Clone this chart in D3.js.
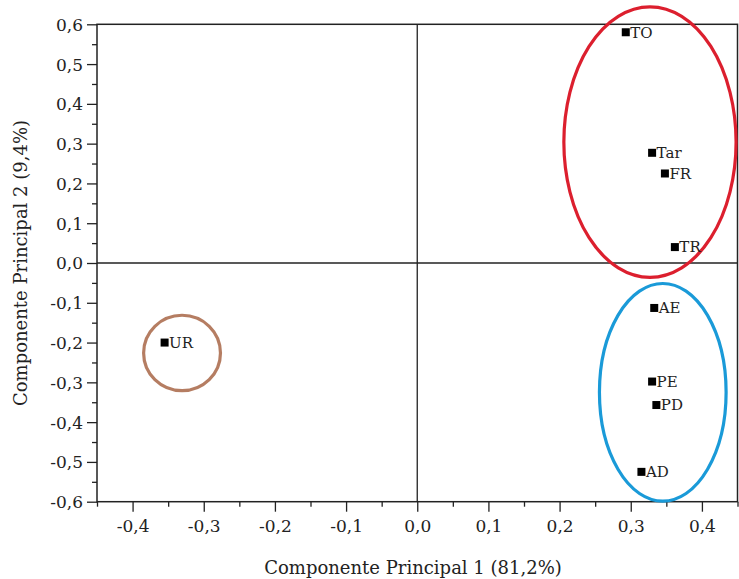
<!DOCTYPE html>
<html>
<head>
<meta charset="utf-8">
<script src="https://cdn.jsdelivr.net/npm/d3@7"></script>
<style>
  body { margin: 0; background: #fff; }
  svg text { font-family: "DejaVu Serif", serif; fill: #222; }
</style>
</head>
<body>
<svg width="739" height="579"></svg>
<script>
// sample scores on the first two principal components
const labels = ["TO", "Tar", "FR", "TR", "AE", "PE", "PD", "AD", "UR"];
const pc1 = [0.293, 0.330, 0.348, 0.362, 0.333, 0.330, 0.336, 0.315, -0.355];
const pc2 = [0.580, 0.277, 0.225, 0.040, -0.113, -0.298, -0.357, -0.525, -0.200];

// group ellipses (data units)
const groupCx = [0.327, 0.345, -0.3305];
const groupCy = [0.304, -0.325, -0.226];
const groupRx = [0.121, 0.089, 0.054];
const groupRy = [0.340, 0.2735, 0.0947];
const groupColor = ["#dc1f2e", "#1a9ad8", "#b57d62"];

const xTicks = [-0.4, -0.3, -0.2, -0.1, 0.0, 0.1, 0.2, 0.3, 0.4];
const yTicks = [-0.6, -0.5, -0.4, -0.3, -0.2, -0.1, 0.0, 0.1, 0.2, 0.3, 0.4, 0.5, 0.6];

const margins = {t: 24.3, r: 1.5, b: 77.3, l: 97};
const size = {w: 739 - margins.l - margins.r, h: 579 - margins.t - margins.b};

const svg = d3.select('svg');
const g = svg.append('g')
    .attr('transform', `translate(${margins.l}, ${margins.t})`);

const scaleX = d3.scaleLinear().domain([-0.45, 0.45]).range([0, size.w]);
const scaleY = d3.scaleLinear().domain([-0.6, 0.6]).range([size.h, 0]);

const fmt = d => d3.format('.1f')(d).replace('.', ',').replace('−', '-');

// minor ticks
const xMinor = d3.range(-0.45, 0.451, 0.1).map(d => +d.toFixed(2));
const yMinor = d3.range(-0.55, 0.551, 0.1).map(d => +d.toFixed(2));

g.append('g').attr('class', 'x-minor')
    .attr('transform', `translate(0, ${size.h})`)
    .call(d3.axisBottom(scaleX).tickValues(xMinor).tickSize(5).tickFormat(''))
    .call(s => s.select('.domain').remove());

g.append('g').attr('class', 'y-minor')
    .call(d3.axisLeft(scaleY).tickValues(yMinor).tickSize(5).tickFormat(''))
    .call(s => s.select('.domain').remove());

let axisXG = g.append('g')
    .attr('transform', `translate(0, ${size.h})`)
    .call(d3.axisBottom(scaleX).tickValues(xTicks).tickSize(10).tickPadding(8).tickFormat(fmt));
axisXG.select('.domain').remove();
axisXG.selectAll('text').style('font-size', '17px');

let axisYG = g.append('g')
    .call(d3.axisLeft(scaleY).tickValues(yTicks).tickSize(10).tickPadding(4).tickFormat(fmt));
axisYG.select('.domain').remove();
axisYG.selectAll('text').style('font-size', '17px').attr('dy', '0.35em');

g.selectAll('.tick line').attr('stroke', '#222').attr('stroke-width', 1.3);

// frame
g.append('rect')
    .attr('width', size.w).attr('height', size.h)
    .attr('fill', 'none').attr('stroke', '#222').attr('stroke-width', 1.5);

// zero lines
g.append('line')
    .attr('x1', scaleX(0)).attr('x2', scaleX(0))
    .attr('y1', 0).attr('y2', size.h)
    .attr('stroke', '#222').attr('stroke-width', 1.3);
g.append('line')
    .attr('x1', 0).attr('x2', size.w)
    .attr('y1', scaleY(0)).attr('y2', scaleY(0))
    .attr('stroke', '#222').attr('stroke-width', 1.3);

// ellipses
g.selectAll('ellipse')
    .data(groupCx)
    .enter()
    .append('ellipse')
    .attr('cx', (d, i) => scaleX(groupCx[i]))
    .attr('cy', (d, i) => scaleY(groupCy[i]))
    .attr('rx', (d, i) => scaleX(groupRx[i]) - scaleX(0))
    .attr('ry', (d, i) => scaleY(0) - scaleY(groupRy[i]))
    .attr('fill', 'none')
    .attr('stroke', (d, i) => groupColor[i])
    .attr('stroke-width', 3.2);

// points
const pts = g.selectAll('g.pt')
    .data(labels)
    .enter()
    .append('g')
    .attr('class', 'pt')
    .attr('transform', (d, i) => `translate(${scaleX(pc1[i])}, ${scaleY(pc2[i])})`);

pts.append('rect')
    .attr('x', -4).attr('y', -4)
    .attr('width', 8).attr('height', 8)
    .attr('fill', '#000');

pts.append('text')
    .attr('x', 4.5)
    .attr('dy', '0.35em')
    .style('font-size', '15px')
    .text(d => d);

// axis titles
svg.append('text')
    .attr('x', 413).attr('y', 574)
    .attr('text-anchor', 'middle')
    .style('font-size', '18px')
    .text('Componente Principal 1 (81,2%)');

svg.append('text')
    .attr('transform', 'translate(27, 263) rotate(-90)')
    .attr('text-anchor', 'middle')
    .style('font-size', '18px')
    .text('Componente Principal 2 (9,4%)');
</script>
</body>
</html>
